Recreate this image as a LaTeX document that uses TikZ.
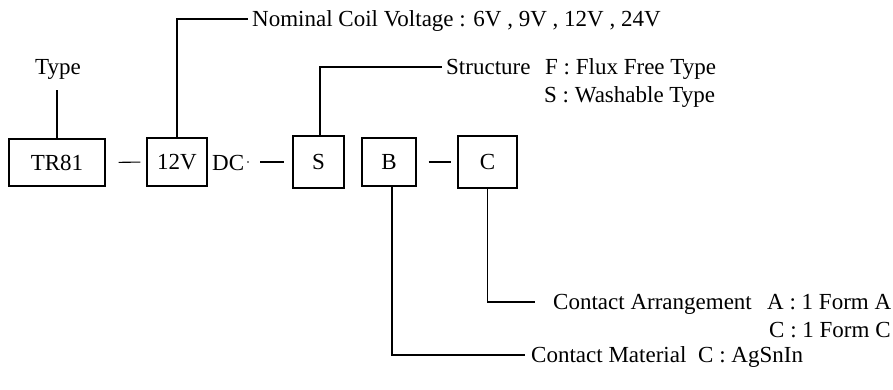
\documentclass[tikz,border=0pt]{standalone}
\usepackage{fontspec}
\setmainfont{Liberation Serif}
\begin{document}
\begin{tikzpicture}[x=1pt,y=-1pt,
  every node/.style={font=\fontsize{23}{27}\selectfont},
  box/.style={draw, line width=1.1pt, inner sep=0pt},
  lbl/.style={inner sep=0pt, anchor=base west},
  wire/.style={line width=1.1pt}]
\useasboundingbox (0,0) rectangle (893,389);
% boxes
\node[box, minimum width=96pt, minimum height=47pt] (tr) at (57,162.5) {TR81};
\node[box, minimum width=60pt, minimum height=48pt] (v) at (177,162) {12V};
\node[lbl] (dc) at (212,170) {DC};
\node[box, minimum width=51pt, minimum height=52pt] (s) at (318.5,162) {S};
\node[box, minimum width=54pt, minimum height=48pt] (b) at (389,162) {B};
\node[box, minimum width=59pt, minimum height=52pt] (c) at (487.5,162) {C};
\fill (248,162) circle (0.8);
% dashes between boxes
\draw[wire, shorten <=13pt, shorten >=6pt] (tr.east) -- (v.west);
\draw[wire, shorten <=16pt, shorten >=8pt] (dc.east |- s.west) -- (s.west);
\draw[wire, shorten <=12pt, shorten >=6pt] (b.east) -- (c.west);
% labels
\node[lbl] (type) at (35,74) {Type};
\node[lbl] (nom) at (252,26.5) {Nominal Coil Voltage : 6V , 9V , 12V , 24V};
\node[lbl] (str) at (446,74.5) {Structure};
\node[lbl] (strf) at (545,74.5) {F : Flux Free Type};
\node[lbl] (strs) at (544,102.5) {S : Washable Type};
\node[lbl] (ca) at (553,309.5) {Contact Arrangement};
\node[lbl] (caa) at (767,309.5) {A : 1 Form A};
\node[lbl] (cac) at (769,337.5) {C : 1 Form C};
\node[lbl] (cm) at (531,362.5) {Contact Material};
\node[lbl] (cmc) at (698,362.5) {C : AgSnIn};
% connector ends
\coordinate (typeend) at (57,90);
\coordinate (nomend) at (248,19);
\coordinate (strend) at (442,67);
\coordinate (caend) at (535,302);
\coordinate (cmend) at (525,355);
% connectors
\draw[wire] (tr.north) -- (typeend);
\draw[wire] (v.north) |- (nomend);
\draw[wire] ([xshift=1.5pt]s.north) |- (strend);
\draw[wire] (c.south) |- (caend);
\draw[wire] ([xshift=3pt]b.south) |- (cmend);
\end{tikzpicture}
\end{document}
